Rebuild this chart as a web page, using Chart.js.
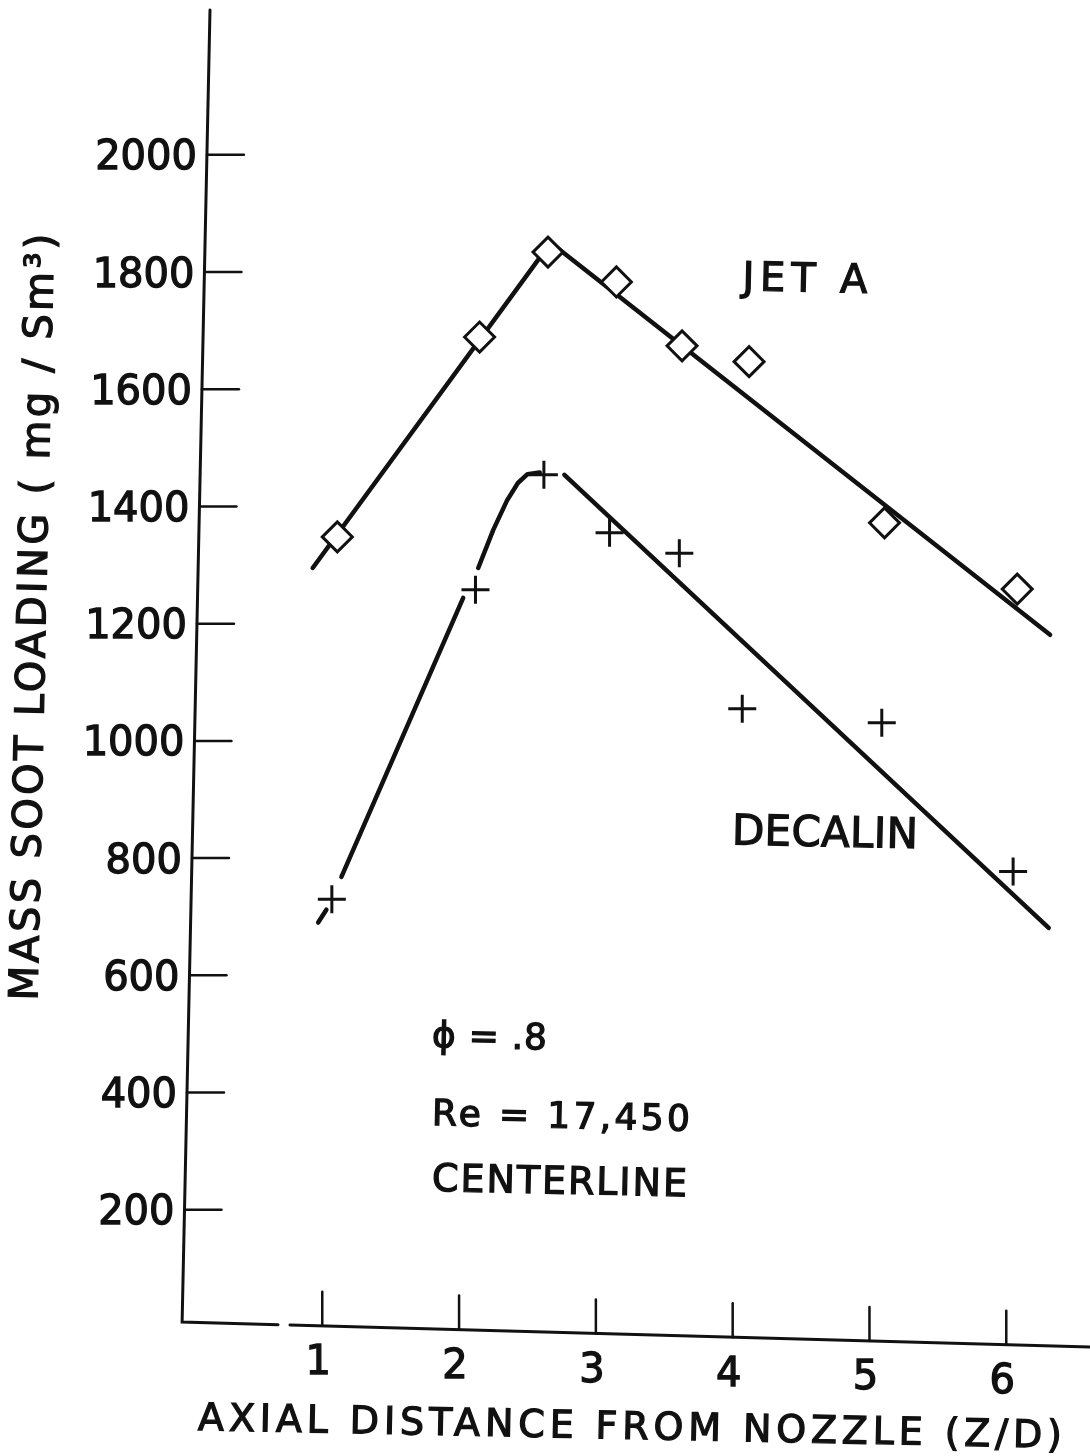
<!DOCTYPE html>
<html>
<head>
<meta charset="utf-8">
<title>Mass soot loading vs axial distance</title>
<script src="https://cdn.jsdelivr.net/npm/chart.js@4.4.1/dist/chart.umd.min.js"></script>
<style>
  html, body { margin: 0; padding: 0; background: #fff; }
  canvas { display: block; }
</style>
</head>
<body>
<canvas id="sootChart" width="1090" height="1456"></canvas>
<script>
// tick values on both axes
const xTicks = [1, 2, 3, 4, 5, 6];
const yTicks = [200, 400, 600, 800, 1000, 1200, 1400, 1600, 1800, 2000];

// JET A measurements (diamonds)
const jetaX = [1.11, 2.15, 2.65, 3.15, 3.63, 4.12, 5.11, 6.08];
const jetaY = [1348, 1689, 1834, 1783, 1674, 1647, 1372, 1259];

// DECALIN measurements (crosses)
const decalinX = [1.07, 2.12, 2.62, 3.10, 3.61, 4.07, 5.09, 6.05];
const decalinY = [730, 1258, 1454, 1355, 1320, 1055, 1031, 777];

// hand drawn curves through the data (null = pen lifted)
const jetaFitX = [0.93, 2.67, 6.32];
const jetaFitY = [1295, 1850, 1181];
const decalinFitX = [0.97, 1.03, null, 1.14, 2.03, null, 2.14, 2.25, 2.35, 2.43, 2.50, 2.59, null, 2.77, 6.31];
const decalinFitY = [690, 712, null, 768, 1244, null, 1295, 1360, 1410, 1440, 1455, 1458, null, 1454, 681];

const xTitle = 'AXIAL DISTANCE FROM NOZZLE (Z/D)';
const yTitle = 'MASS SOOT LOADING ( mg / Sm\u00B3)';

const INK = '#111';
const FONT = '"DejaVu Sans", "Liberation Sans", sans-serif';
const SLANT = 0.0215; // the scan is a little rotated

function toPoints(xs, ys) {
    return xs.map((x, i) => ({ x: x, y: ys[i] }));
}

// draws text stretched to a given width with letter spacing, cap centre on y
function drawText(ctx, text, x, y, size, width, align) {
    ctx.font = size + 'px ' + FONT;
    ctx.textAlign = 'left';
    ctx.textBaseline = 'alphabetic';
    if ('letterSpacing' in ctx) ctx.letterSpacing = '0px';
    const natural = ctx.measureText(text).width;
    let w = natural;
    if (width && 'letterSpacing' in ctx) {
        const gap = (width - natural) / Math.max(text.length - 1, 1);
        ctx.letterSpacing = gap + 'px';
        w = width;
    }
    let start = x;
    if (align === 'center') start = x - w / 2;
    if (align === 'right') start = x - w;
    const base = y + size * 0.364;
    ctx.fillText(text, start, base);
    // pen lettering is a bit heavier than the regular face
    ctx.lineWidth = 1.3;
    ctx.strokeText(text, start, base);
    if ('letterSpacing' in ctx) ctx.letterSpacing = '0px';
}

function drawRotated(ctx, angle, cx, cy, fn) {
    ctx.save();
    ctx.translate(cx, cy);
    ctx.rotate(angle);
    fn();
    ctx.restore();
}

const paperAxes = {
    id: 'paperAxes',
    afterDraw(chart) {
        const ctx = chart.ctx;
        const area = chart.chartArea;
        const xs = chart.scales.x;
        const ys = chart.scales.y;
        // slanted axis lines like the scanned original
        const axisX = py => area.left + 14 - 28 * (py - area.top) / (area.bottom - area.top);
        const axisY = px => area.bottom - 5 + (px - (area.left - 14)) * 0.0275;

        ctx.save();
        ctx.strokeStyle = INK;
        ctx.fillStyle = INK;
        ctx.lineCap = 'round';

        ctx.lineWidth = 3;
        ctx.beginPath();
        ctx.moveTo(axisX(area.top), area.top);
        ctx.lineTo(axisX(area.bottom - 5), area.bottom - 5);
        ctx.lineTo(area.left + 82, axisY(area.left + 82));
        ctx.moveTo(area.left + 94, axisY(area.left + 94));
        ctx.lineTo(area.right, axisY(area.right));
        ctx.stroke();

        // y ticks point inwards
        yTicks.forEach(v => {
            const py = ys.getPixelForValue(v);
            const ax = axisX(py);
            ctx.lineWidth = 2.5;
            ctx.beginPath();
            ctx.moveTo(ax, py);
            ctx.lineTo(ax + 37, py);
            ctx.stroke();
            drawText(ctx, String(v), ax - 10, py, 40, null, 'right');
        });

        // x ticks point upwards
        xTicks.forEach(v => {
            const px = xs.getPixelForValue(v);
            const ay = axisY(px);
            ctx.lineWidth = 2.5;
            ctx.beginPath();
            ctx.moveTo(px, ay);
            ctx.lineTo(px, ay - 34);
            ctx.stroke();
            drawText(ctx, String(v), px - 4, ay + 34, 40, null, 'center');
        });

        drawRotated(ctx, SLANT * 0.95, 630, 1425, () => drawText(ctx, xTitle, 0, 0, 38, 864, 'center'));
        drawRotated(ctx, -Math.PI / 2 + SLANT, 31, 617, () => drawText(ctx, yTitle, 0, 0, 40, 767, 'center'));

        // curve labels and run conditions
        drawRotated(ctx, SLANT, 805, 277, () => drawText(ctx, 'JET A', 0, 0, 40, 125, 'center'));
        drawRotated(ctx, SLANT, 825, 831, () => drawText(ctx, 'DECALIN', 0, 0, 42, 186, 'center'));
        drawRotated(ctx, SLANT, 432, 1034, () => drawText(ctx, '\u03D5 = .8', 0, 0, 36, 115, 'left'));
        drawRotated(ctx, SLANT, 432, 1112, () => drawText(ctx, 'Re = 17,450', 0, 0, 36, 258, 'left'));
        drawRotated(ctx, SLANT, 432, 1177, () => drawText(ctx, 'CENTERLINE', 0, 0, 38, 255, 'left'));

        ctx.restore();
    }
};

window.onload = function() {
    const ctx = document.getElementById('sootChart').getContext('2d');
    new Chart(ctx, {
        type: 'scatter',
        data: {
            datasets: [
                {
                    label: 'JET A',
                    data: toPoints(jetaX, jetaY),
                    pointStyle: 'rectRot',
                    pointRadius: 15,
                    pointBorderWidth: 3,
                    pointBorderColor: INK,
                    pointBackgroundColor: '#fff'
                },
                {
                    label: 'DECALIN',
                    data: toPoints(decalinX, decalinY),
                    pointStyle: 'cross',
                    pointRadius: 14,
                    pointBorderWidth: 3,
                    pointBorderColor: INK
                },
                {
                    label: 'JET A fit',
                    data: toPoints(jetaFitX, jetaFitY),
                    showLine: true,
                    pointRadius: 0,
                    borderColor: INK,
                    borderWidth: 4.5,
                    borderCapStyle: 'round',
                    borderJoinStyle: 'round'
                },
                {
                    label: 'DECALIN fit',
                    data: toPoints(decalinFitX, decalinFitY),
                    showLine: true,
                    spanGaps: false,
                    pointRadius: 0,
                    borderColor: INK,
                    borderWidth: 4.5,
                    borderCapStyle: 'round',
                    borderJoinStyle: 'round'
                }
            ]
        },
        options: {
            responsive: false,
            animation: false,
            layout: { autoPadding: false, padding: { left: 196, right: 0, top: 10, bottom: 129 } },
            plugins: {
                legend: { display: false },
                tooltip: { enabled: false }
            },
            scales: {
                x: { type: 'linear', min: 0.077, max: 6.612, display: false },
                y: { type: 'linear', min: 0, max: 2247, display: false }
            }
        },
        plugins: [paperAxes]
    });
};
</script>
</body>
</html>
